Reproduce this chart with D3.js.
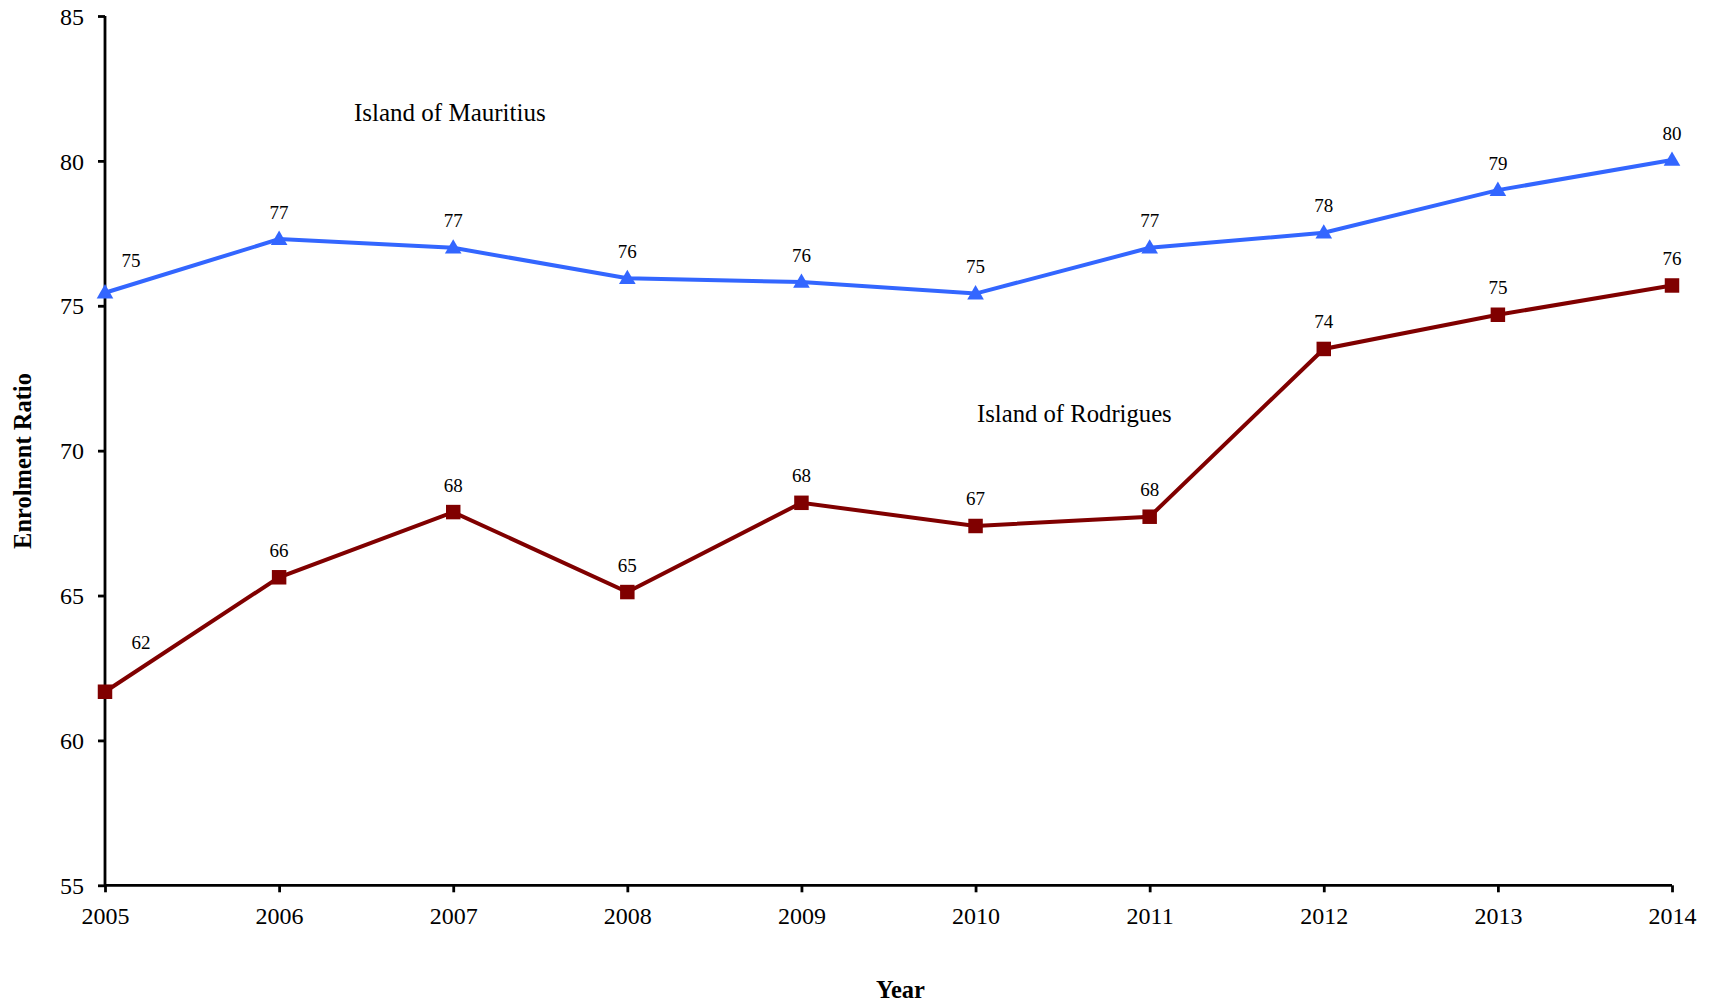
<!DOCTYPE html>
<html>
<head>
<meta charset="utf-8">
<script src="https://cdn.jsdelivr.net/npm/d3@7"></script>
<style>
  html, body { margin: 0; padding: 0; background: #fff; }
  svg { display: block; font-family: "Liberation Serif", "Times New Roman", serif; }
</style>
</head>
<body>
<svg id="chart" width="1716" height="1007"></svg>
<script>
const years = [2005, 2006, 2007, 2008, 2009, 2010, 2011, 2012, 2013, 2014];
const mauritius = [75.45, 77.3, 77.0, 75.95, 75.82, 75.42, 77.0, 77.52, 78.99, 80.03];
const rodrigues = [61.68, 65.63, 67.88, 65.12, 68.2, 67.4, 67.72, 73.51, 74.69, 75.7];
const mauritiusLabels = ["75", "77", "77", "76", "76", "75", "77", "78", "79", "80"];
const rodriguesLabels = ["62", "66", "68", "65", "68", "67", "68", "74", "75", "76"];
const yTicks = [55, 60, 65, 70, 75, 80, 85];
const seriesNames = ["Island of Mauritius", "Island of Rodrigues"];
const xTitle = "Year";
const yTitle = "Enrolment Ratio";

(function () {
const svg = d3.select("#chart");
const mLeft = 105, mRight = 1672, mTop = 16, mBottom = 885.3;

const x = d3.scaleLinear().domain([2005, 2014]).range([mLeft, mRight]);
const y = d3.scaleLinear().domain([55, 85]).range([mBottom, mTop]);

// Axes
const yAxis = d3.axisLeft(y).tickValues(yTicks).tickSize(7).tickPadding(14).tickFormat(d3.format("d"));
const xAxis = d3.axisBottom(x).tickValues(years).tickSize(7).tickPadding(14).tickFormat(d3.format("d"));

const gy = svg.append("g").attr("transform", `translate(${mLeft},0)`).call(yAxis);
const gx = svg.append("g").attr("transform", `translate(0,${mBottom})`).call(xAxis);

[gy, gx].forEach(g => {
  g.select(".domain").attr("stroke", "#000").attr("stroke-width", 2.8);
  g.selectAll(".tick line").attr("stroke", "#000").attr("stroke-width", 2.8);
  g.selectAll(".tick text").attr("fill", "#000")
    .style("font-family", "'Liberation Serif', 'Times New Roman', serif")
    .style("font-size", "24px");
});
gy.select(".domain").attr("d", `M0,${mTop}V${mBottom}`);
gx.select(".domain").attr("d", `M${mLeft},0H${mRight}`);
gy.selectAll(".tick text").attr("dy", "0.34em");
gx.selectAll(".tick text").attr("dy", "0.72em");

// Axis titles
svg.append("text")
  .attr("x", (mLeft + mRight) / 2 + 12).attr("y", 998)
  .attr("text-anchor", "middle")
  .style("font-size", "24.5px").style("font-weight", "bold")
  .text(xTitle);
svg.append("text")
  .attr("transform", `translate(31,461) rotate(-90)`)
  .attr("text-anchor", "middle")
  .style("font-size", "24.5px").style("font-weight", "bold")
  .text(yTitle);

const series = [
  { values: mauritius, labels: mauritiusLabels, color: "#3366FF", marker: "triangle",
    firstOffset: { dx: 26, dy: -26 } },
  { values: rodrigues, labels: rodriguesLabels, color: "#800000", marker: "square",
    firstOffset: { dx: 36, dy: -43 } }
];

const line = d3.line().x((d, i) => x(years[i])).y(d => y(d));

series.forEach(s => {
  svg.append("path")
    .datum(s.values)
    .attr("d", line)
    .attr("fill", "none")
    .attr("stroke", s.color)
    .attr("stroke-width", 4)
    .attr("stroke-linejoin", "miter");

  const sym = d3.symbol()
    .type(s.marker === "triangle" ? d3.symbolTriangle : d3.symbolSquare)
    .size(s.marker === "triangle" ? 120 : 210);

  svg.append("g").selectAll("path")
    .data(s.values)
    .join("path")
    .attr("d", sym)
    .attr("transform", (d, i) => `translate(${x(years[i])},${y(d) + (s.marker === "triangle" ? 1 : 0)})`)
    .attr("fill", s.color);

  svg.append("g").selectAll("text")
    .data(s.values)
    .join("text")
    .attr("x", (d, i) => x(years[i]) + (i === 0 ? s.firstOffset.dx : 0))
    .attr("y", (d, i) => y(d) + (i === 0 ? s.firstOffset.dy : -20.5))
    .attr("text-anchor", "middle")
    .style("font-size", "19px")
    .attr("fill", "#000")
    .text((d, i) => s.labels[i]);
});

// Series annotations
svg.append("text")
  .attr("x", 354).attr("y", 121)
  .style("font-size", "25px").attr("fill", "#000")
  .text(seriesNames[0]);
svg.append("text")
  .attr("x", 977).attr("y", 421.5)
  .style("font-size", "24.7px").attr("fill", "#000")
  .text(seriesNames[1]);
})();
</script>
</body>
</html>
